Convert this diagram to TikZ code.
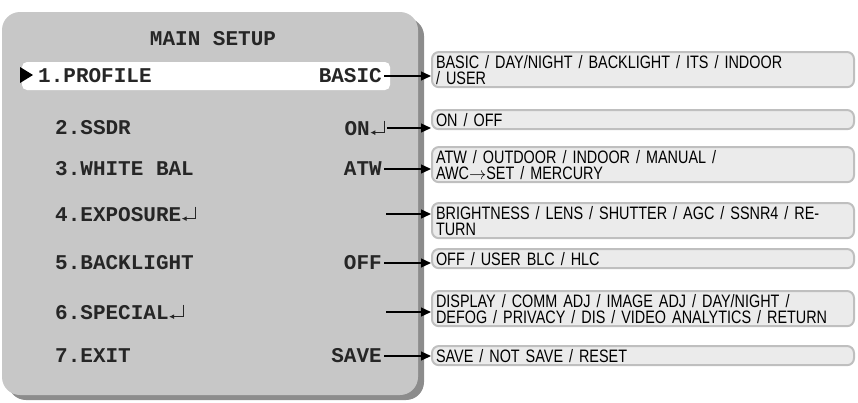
\documentclass[tikz,border=0pt]{standalone}
\usepackage{fontspec}
\setmainfont{Liberation Sans}
\newfontfamily\menufont{Liberation Mono}
\newfontfamily\optfont[FakeStretch=0.8]{Liberation Sans}
\usetikzlibrary{arrows.meta}
\newcommand{\retmark}{\tikz[baseline=0pt,x=1pt,y=1pt]{\draw[line width=1pt,-{Latex[length=5pt,width=5pt]}] (15,15)--(15,3)--(1,3);}}
\begin{document}
\begin{tikzpicture}[x=1pt,y=-1pt,
  menu/.style={font=\menufont\bfseries\fontsize{21}{21}\selectfont, inner sep=0pt, text=black!85},
  opt/.style={draw=black!25, line width=2pt, fill=black!8, rounded corners=7pt, font=\optfont\fontsize{18}{16}\selectfont, align=left, anchor=north west, inner xsep=4pt, inner ysep=3pt, text width=414pt, minimum width=422pt},
  arr/.style={line width=1.3pt,-{Triangle[length=10pt,width=9pt]}}]
\useasboundingbox (0,0) rectangle (858,402);
% shadow and panel
\fill[black!45,rounded corners=18pt] (8,18) rectangle (424,400);
\fill[black!22,rounded corners=18pt] (2,12) rectangle (418,395);
\fill[white,rounded corners=5pt] (22,62) rectangle (390,90);
\node[menu] (title) at (213,39) {MAIN SETUP};
\fill (20,67) -- (33,75) -- (20,83) -- cycle;
\node[menu,anchor=west] (l1) at (38,76) {1.PROFILE};
\node[menu,anchor=west] (l2) at (55,128) {2.SSDR};
\node[menu,anchor=west] (l3) at (55,169) {3.WHITE BAL};
\node[menu,anchor=west] (l4) at (55,214) {4.EXPOSURE\retmark};
\node[menu,anchor=west] (l5) at (55,263) {5.BACKLIGHT};
\node[menu,anchor=west] (l6) at (55,312) {6.SPECIAL\retmark};
\node[menu,anchor=west] (l7) at (55,356) {7.EXIT};
\node[menu,anchor=east] (v1) at (382,76) {BASIC};
\node[menu,anchor=east] (v2) at (385,128) {ON\retmark};
\node[menu,anchor=east] (v3) at (382,169) {ATW};
\coordinate (v4) at (386,214);
\node[menu,anchor=east] (v5) at (382,263) {OFF};
\coordinate (v6) at (386,312);
\node[menu,anchor=east] (v7) at (382,356) {SAVE};
\node[opt] (o1) at (431,51) {BASIC / DAY/NIGHT / BACKLIGHT / ITS / INDOOR\\/ USER};
\node[opt] (o2) at (431,109) {ON / OFF};
\node[opt] (o3) at (431,146) {ATW / OUTDOOR / INDOOR / MANUAL /\\AWC$\rightarrow$SET / MERCURY};
\node[opt] (o4) at (431,202) {BRIGHTNESS / LENS / SHUTTER / AGC / SSNR4 / RETURN};
\node[opt] (o5) at (431,248) {OFF / USER BLC / HLC};
\node[opt] (o6) at (431,290) {DISPLAY / COMM ADJ / IMAGE ADJ / DAY/NIGHT /\\DEFOG / PRIVACY / DIS / VIDEO ANALYTICS / RETURN};
\node[opt] (o7) at (431,345) {SAVE / NOT SAVE / RESET};
\foreach \i in {1,2,3,5,7} \draw[arr] (v\i.east) ++(2,0) -- (v\i.east -| o\i.west);
\foreach \i in {4,6} \draw[arr] (v\i) -- (v\i -| o\i.west);
\end{tikzpicture}
\end{document}
